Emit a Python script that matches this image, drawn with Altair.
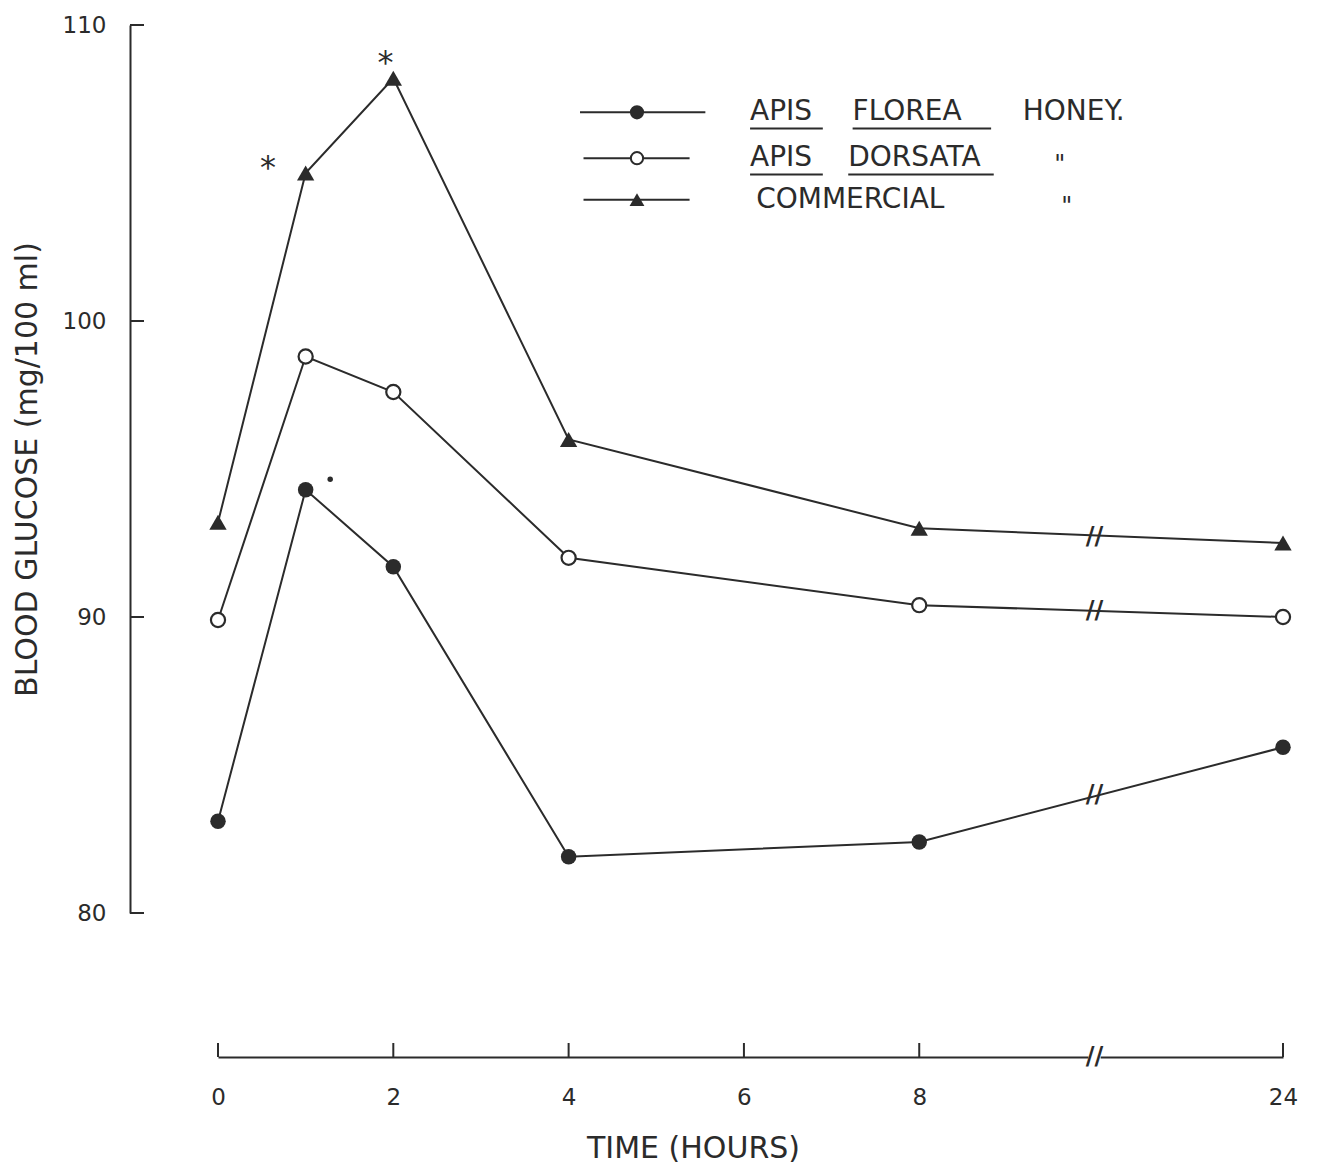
import altair as alt
import pandas as pd

# ---------------- data ----------------
hours = [0, 1, 2, 4, 8, 24]
florea = [83.1, 94.3, 91.7, 81.9, 82.4, 85.6]
dorsata = [89.9, 98.8, 97.6, 92.0, 90.4, 90.0]
commercial = [93.2, 105.0, 108.2, 96.0, 93.0, 92.5]
series_names = ["APIS FLOREA HONEY.", "APIS DORSATA", "COMMERCIAL"]
tick_hours = [0, 2, 4, 6, 8, 24]
y_ticks = [80, 90, 100, 110]
break_values = [84.0, 90.2, 92.7]      # where the "//" marks sit on each line

# ---------------- layout ----------------
INK = "#2b2b2b"
FONT = "DejaVu Sans"
W, H = 1065, 888
X_MAX = 12.15            # axis position of the 24 h tick (after the break)
BREAK_POS = 10.0
Y_MIN, Y_MAX = 80, 110
Y_AXIS_OFF, X_AXIS_OFF = 88, 144
PX_X = W / X_MAX
PX_Y = H / (Y_MAX - Y_MIN)


def to_pos(h):
    return h if h <= 8 else X_MAX


xs = alt.Scale(domain=[0, X_MAX], nice=False, zero=False)
ys = alt.Scale(domain=[Y_MIN, Y_MAX], nice=False, zero=False)

xaxis = alt.Axis(
    values=[to_pos(h) for h in tick_hours],
    labelExpr="datum.value > 10 ? '24' : datum.label",
    offset=X_AXIS_OFF, ticks=False, tickSize=0, grid=False,
    domainColor=INK, domainWidth=2,
    labelFont=FONT, labelFontSize=23, labelColor=INK, labelPadding=29,
    labelFlush=False,
    title="TIME (HOURS)", titleFont=FONT, titleFontSize=30,
    titleFontWeight="normal", titleColor=INK,
    titleX=475, titleY=76, titleAlign="center", titleBaseline="top",
)
yaxis = alt.Axis(
    values=y_ticks, offset=Y_AXIS_OFF, ticks=False, tickSize=0, grid=False,
    domainColor=INK, domainWidth=2,
    labelFont=FONT, labelFontSize=23, labelColor=INK, labelPadding=24,
    title="BLOOD GLUCOSE (mg/100 ml)", titleFont=FONT, titleFontSize=30,
    titleFontWeight="normal", titleColor=INK, titlePadding=20,
)


def X(f="pos"):
    return alt.X(f, type="quantitative", scale=xs, axis=xaxis)


def Y(f="val"):
    return alt.Y(f, type="quantitative", scale=ys, axis=yaxis)


# ---------------- series ----------------
rows = []
for name, vals in zip(series_names, [florea, dorsata, commercial]):
    for h, v in zip(hours, vals):
        rows.append({"series": name, "hour": h, "pos": to_pos(h), "val": v})
df = pd.DataFrame(rows)

lines = alt.Chart(df).mark_line(color=INK, strokeWidth=2).encode(
    x=X(), y=Y(), detail="series:N", order="pos:Q"
)

df_f = df[df.series == series_names[0]]
df_d = df[df.series == series_names[1]]
df_c = df[df.series == series_names[2]]

pts_f = alt.Chart(df_f).mark_point(shape="circle", size=240, filled=True,
                                   color=INK, opacity=1).encode(x=X(), y=Y())
pts_d = alt.Chart(df_d).mark_point(shape="circle", size=200, filled=True,
                                   fill="white", stroke=INK, strokeWidth=2.2,
                                   opacity=1).encode(x=X(), y=Y())
pts_c = alt.Chart(df_c).mark_point(shape="triangle-up", size=300, filled=True,
                                   color=INK, opacity=1).encode(x=X(), y=Y())

# break marks on the lines and on the time axis
x_axis_val = Y_MIN - X_AXIS_OFF / PX_Y
gap = pd.DataFrame({"pos": [BREAK_POS - 0.07], "pos2": [BREAK_POS + 0.07],
                    "val": [x_axis_val]})
axis_gap = alt.Chart(gap).mark_rule(color="white", strokeWidth=6).encode(
    x=X(), x2="pos2:Q", y=Y())
brk = pd.DataFrame({"pos": [BREAK_POS] * 4,
                    "val": break_values + [x_axis_val],
                    "t": ["//"] * 4})
breaks = alt.Chart(brk).mark_text(font=FONT, fontSize=24, fontWeight="bold",
                                  color=INK, baseline="middle",
                                  align="center").encode(x=X(), y=Y(), text="t:N")

# inward ticks of both axes
y_axis_pos = -Y_AXIS_OFF / PX_X
ytk = pd.DataFrame({"pos": [y_axis_pos] * len(y_ticks),
                    "pos2": [y_axis_pos + 14 / PX_X] * len(y_ticks),
                    "val": y_ticks})
yticks = alt.Chart(ytk).mark_rule(color=INK, strokeWidth=2).encode(
    x=X(), x2="pos2:Q", y=Y())
xtk = pd.DataFrame({"pos": [to_pos(h) for h in tick_hours],
                    "val": [x_axis_val] * len(tick_hours),
                    "val2": [x_axis_val + 14 / PX_Y] * len(tick_hours)})
xticks = alt.Chart(xtk).mark_rule(color=INK, strokeWidth=2).encode(
    x=X(), y=Y(), y2="val2:Q")

# significance marks
stars = pd.DataFrame({"pos": [0.57, 1.91], "val": [105.45, 109.0],
                      "t": ["*", "*"]})
star_marks = alt.Chart(stars).mark_text(font=FONT, fontSize=32, color=INK,
                                        baseline="middle", align="center",
                                        dy=8).encode(x=X(), y=Y(), text="t:N")
dot = pd.DataFrame({"pos": [1.28], "val": [94.65]})
dot_mark = alt.Chart(dot).mark_point(shape="circle", size=30, filled=True,
                                     color=INK, opacity=1).encode(x=X(), y=Y())

# ---------------- hand-drawn legend ----------------
leg_rows = [107.05, 105.5, 104.1]
leg_line = pd.DataFrame({"pos": [4.13, 4.17, 4.17],
                         "pos2": [5.56, 5.38, 5.38],
                         "val": leg_rows})
leg_lines = alt.Chart(leg_line).mark_rule(color=INK, strokeWidth=2).encode(
    x=X(), x2="pos2:Q", y=Y())
leg_f = alt.Chart(pd.DataFrame({"pos": [4.78], "val": [leg_rows[0]]})).mark_point(
    shape="circle", size=200, filled=True, color=INK, opacity=1).encode(x=X(), y=Y())
leg_d = alt.Chart(pd.DataFrame({"pos": [4.78], "val": [leg_rows[1]]})).mark_point(
    shape="circle", size=150, filled=True, fill="white", stroke=INK,
    strokeWidth=2, opacity=1).encode(x=X(), y=Y())
leg_c = alt.Chart(pd.DataFrame({"pos": [4.78], "val": [leg_rows[2]]})).mark_point(
    shape="triangle-up", size=220, filled=True, color=INK, opacity=1).encode(x=X(), y=Y())

words = pd.DataFrame({
    "t": ["APIS", "FLOREA", "HONEY.", "APIS", "DORSATA", "COMMERCIAL"],
    "pos": [6.07, 7.24, 9.18, 6.07, 7.19, 6.14],
    "val": [leg_rows[0]] * 3 + [leg_rows[1]] * 2 + [leg_rows[2]],
})
leg_text = alt.Chart(words).mark_text(font=FONT, fontSize=28, color=INK,
                                      align="left", baseline="middle").encode(
    x=X(), y=Y(), text="t:N")
ditto = pd.DataFrame({"t": ['"', '"'], "pos": [9.54, 9.62],
                      "val": [leg_rows[1], leg_rows[2]]})
ditto_text = alt.Chart(ditto).mark_text(font=FONT, fontSize=24, color=INK,
                                        align="left", baseline="middle",
                                        dy=7).encode(x=X(), y=Y(), text="t:N")
under = pd.DataFrame({"pos": [6.07, 7.24, 6.07, 7.19],
                      "pos2": [6.9, 8.82, 6.9, 8.85],
                      "val": [106.5, 106.5, 104.95, 104.95]})
underlines = alt.Chart(under).mark_rule(color=INK, strokeWidth=2).encode(
    x=X(), x2="pos2:Q", y=Y())

chart = alt.layer(
    lines, pts_f, pts_d, pts_c, axis_gap, breaks, yticks, xticks, star_marks,
    dot_mark, leg_lines, leg_f, leg_d, leg_c, leg_text, ditto_text, underlines,
).properties(
    width=W, height=H,
    autosize=alt.AutoSizeParams(type="none"),
    padding={"left": 218, "top": 25, "right": 39, "bottom": 250},
    background="white",
).configure_view(strokeWidth=0)

chart.save("out.html", embed_options={"renderer": "svg", "actions": False})
